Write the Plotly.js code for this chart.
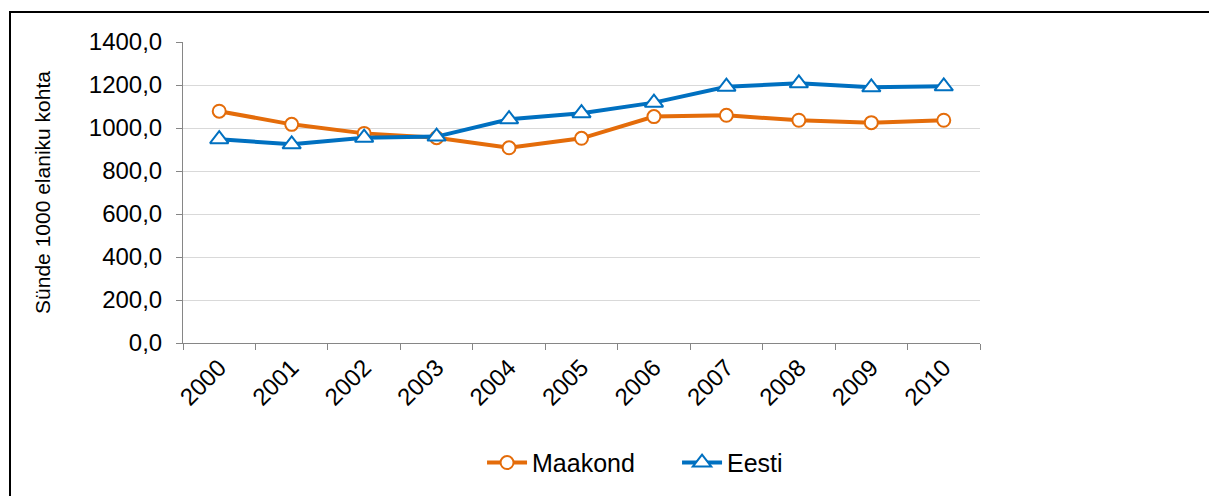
<!DOCTYPE html>
<html>
<head>
<meta charset="utf-8">
<script src="https://cdn.plot.ly/plotly-3.0.1.min.js"></script>
<style>
  html, body { margin: 0; padding: 0; background: #fff; }
  #wrap { position: relative; width: 1209px; height: 496px; overflow: hidden; }
  #frame { position: absolute; left: 9px; top: 11px; width: 1300px; height: 600px;
           border-top: 2px solid #000; border-left: 2px solid #000; pointer-events: none; z-index: 5; }
  #chart { position: absolute; left: 0; top: 0; width: 1209px; height: 496px; }
</style>
</head>
<body>
<div id="wrap">
  <div id="chart"></div>
  <div id="frame"></div>
</div>
<script>
const years = ["2000","2001","2002","2003","2004","2005","2006","2007","2008","2009","2010"];
const maakond = [1078, 1017, 975, 955, 908, 952, 1053, 1059, 1036, 1025, 1036];
const eesti = [948, 924, 955, 960, 1041, 1069, 1118, 1192, 1208, 1189, 1194];
const yTicks = [0, 200, 400, 600, 800, 1000, 1200, 1400];

const fontFam = '"Liberation Sans", Arial, sans-serif';

const traces = [
  {
    x: years, y: maakond, name: 'Maakond', type: 'scatter', mode: 'lines+markers',
    line: { color: '#E46C0A', width: 4 },
    marker: { symbol: 'circle', size: 13, color: '#ffffff', line: { color: '#E46C0A', width: 2 } }
  },
  {
    x: years, y: eesti, name: 'Eesti', type: 'scatter', mode: 'lines+markers',
    line: { color: '#0070C0', width: 4 },
    marker: { symbol: 'triangle-up', size: 16, color: '#ffffff', line: { color: '#0070C0', width: 2 } }
  }
];

const layout = {
  width: 1209, height: 496,
  margin: { l: 183, r: 229, t: 42, b: 153 },
  paper_bgcolor: '#ffffff', plot_bgcolor: '#ffffff',
  separators: ', ',
  font: { family: fontFam, color: '#000000', size: 24 },
  showlegend: true,
  legend: {
    orientation: 'h', xref: 'container', yref: 'container',
    x: 0.56, xanchor: 'center', y: 0.067, yanchor: 'middle',
    font: { family: fontFam, size: 25, color: '#000' },
    itemwidth: 40, entrywidth: 140, tracegroupgap: 0
  },
  xaxis: {
    type: 'category', range: [-0.5, 10.5],
    tickson: 'boundaries', ticks: 'outside', ticklen: 6, tickcolor: '#868686', tickwidth: 1,
    showline: true, linecolor: '#868686', linewidth: 1,
    showgrid: false, zeroline: false,
    tickangle: -45, tickfont: { family: fontFam, size: 24, color: '#000' },
    fixedrange: true
  },
  yaxis: {
    range: [0, 1400], tickvals: yTicks, tickformat: '.1f',
    ticks: 'outside', ticklen: 6, tickcolor: '#868686', tickwidth: 1,
    ticklabelstandoff: 9,
    showline: true, linecolor: '#868686', linewidth: 1,
    showgrid: true, gridcolor: '#D9D9D9', gridwidth: 1, zeroline: false,
    tickfont: { family: fontFam, size: 24, color: '#000' },
    title: { text: 'Sünde 1000 elaniku kohta', font: { family: fontFam, size: 21, color: '#000' }, standoff: 32 },
    fixedrange: true
  }
};

Plotly.newPlot('chart', traces, layout, { displayModeBar: false, staticPlot: true });
</script>
</body>
</html>
